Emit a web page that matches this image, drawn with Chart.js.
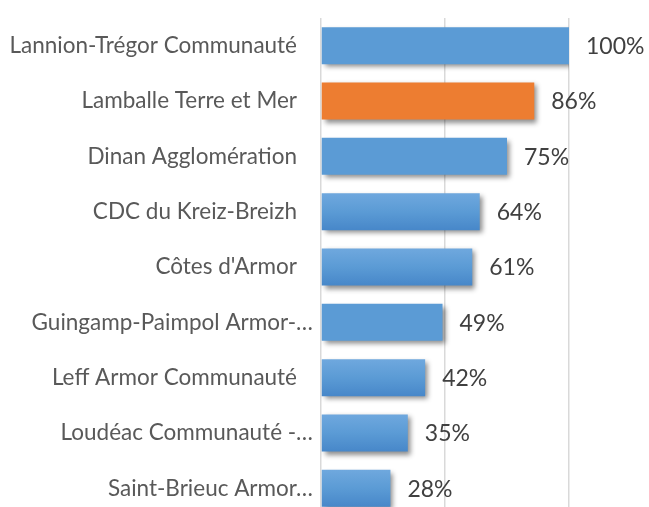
<!DOCTYPE html>
<html>
<head>
<meta charset="utf-8">
<script src="https://cdn.jsdelivr.net/npm/chart.js@4/dist/chart.umd.min.js"></script>
<style>
  html, body { margin: 0; padding: 0; background: #ffffff; overflow: hidden; }
  #wrap { width: 649px; height: 507px; overflow: hidden; }
</style>
</head>
<body>
<div id="wrap"><canvas id="chart" width="649" height="516"></canvas></div>
<script>
// ---- data ----
const categories = [
    "Lannion-Trégor Communauté",
    "Lamballe Terre et Mer",
    "Dinan Agglomération",
    "CDC du Kreiz-Breizh",
    "Côtes d'Armor",
    "Guingamp-Paimpol Armor-…",
    "Leff Armor Communauté",
    "Loudéac Communauté -…",
    "Saint-Brieuc Armor…"
];
const values = [100, 86, 75, 64, 61, 49, 42, 35, 28];
const xTicks = [0, 50, 100];

// ---- styles ----
const BLUE = '#5B9BD5';
const ORANGE = '#ED7D31';
const highlightIndex = 1;
const gradientBars = [3, 4, 6, 7, 8];
const FONT = 'Lato, "Liberation Sans", sans-serif';

function barColor(ctx) {
    const i = ctx.dataIndex;
    if (i === highlightIndex) return ORANGE;
    const chart = ctx.chart;
    if (!chart.chartArea || !gradientBars.includes(i)) return BLUE;
    const y = chart.scales.y;
    const center = y.getPixelForValue(i);
    const half = (y.height / categories.length) * 0.67 / 2;
    const g = chart.ctx.createLinearGradient(0, center - half, 0, center + half);
    g.addColorStop(0, '#6FA8DE');
    g.addColorStop(0.5, '#5B9BD5');
    g.addColorStop(1, '#4787C9');
    return g;
}

// drop shadow under bars
const shadowPlugin = {
    id: 'barShadow',
    beforeDatasetsDraw(chart) {
        const c = chart.ctx;
        c.save();
        c.shadowColor = 'rgba(0, 0, 0, 0.45)';
        c.shadowBlur = 5;
        c.shadowOffsetX = 3;
        c.shadowOffsetY = 3;
    },
    afterDatasetsDraw(chart) {
        chart.ctx.restore();
    }
};

// category labels + value labels
const labelPlugin = {
    id: 'labels',
    afterDatasetsDraw(chart) {
        const c = chart.ctx;
        const y = chart.scales.y;
        const meta = chart.getDatasetMeta(0);
        c.save();
        c.textBaseline = 'middle';
        // category labels
        c.font = '22.5px ' + FONT;
        c.fillStyle = '#595959';
        c.textAlign = 'right';
        categories.forEach((label, i) => {
            const right = label.endsWith('…') ? 313 : 297;
            c.fillText(label, right, y.getPixelForValue(i));
        });
        // value labels
        c.font = '23px ' + FONT;
        c.fillStyle = '#404040';
        c.textAlign = 'left';
        meta.data.forEach((bar, i) => {
            c.fillText(values[i] + '%', bar.x + 17, bar.y + 1);
        });
        c.restore();
    }
};

new Chart(document.getElementById('chart'), {
    type: 'bar',
    data: {
        labels: categories,
        datasets: [{
            data: values,
            backgroundColor: barColor,
            borderWidth: 0,
            barPercentage: 0.67,
            categoryPercentage: 1.0
        }]
    },
    options: {
        indexAxis: 'y',
        responsive: false,
        animation: false,
        layout: { padding: { left: 321, right: 80, top: 18, bottom: 0 } },
        plugins: {
            legend: { display: false },
            tooltip: { enabled: false }
        },
        scales: {
            x: {
                min: 0,
                max: 100,
                afterBuildTicks: (scale) => { scale.ticks = xTicks.map(v => ({ value: v })); },
                ticks: { display: false },
                border: { display: false },
                grid: { color: '#D9D9D9', lineWidth: 1.5, drawTicks: false }
            },
            y: {
                display: false
            }
        }
    },
    plugins: [shadowPlugin, labelPlugin]
});
</script>
</body>
</html>
